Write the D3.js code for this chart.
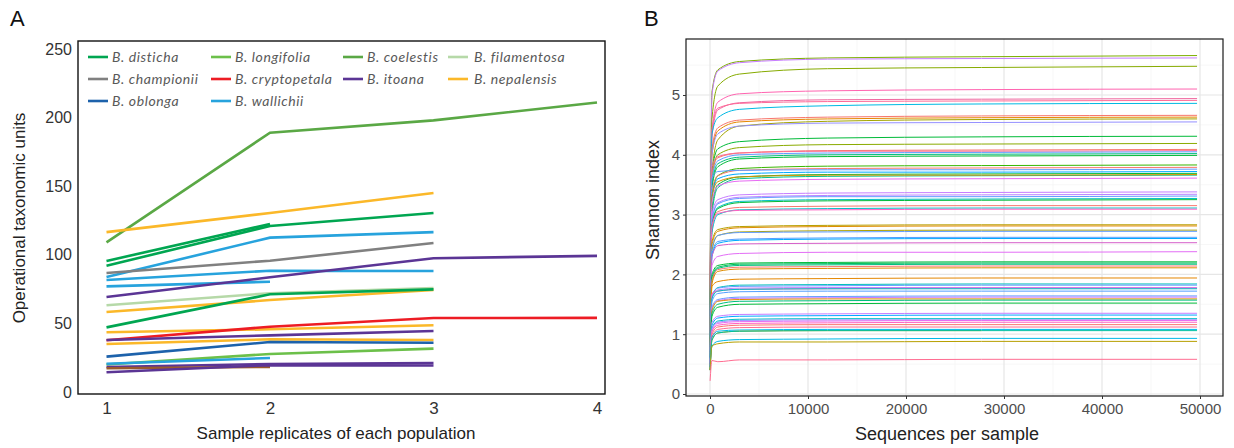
<!DOCTYPE html>
<html>
<head>
<meta charset="utf-8">
<script src="https://cdn.jsdelivr.net/npm/d3@7/dist/d3.min.js"></script>
<style>
  html, body { margin: 0; padding: 0; background: #fff; }
  svg { display: block; }
  .tick-label { font-family: "Liberation Sans", Arial, sans-serif; fill: #333; }
  .axis-title { font-family: "Liberation Sans", Arial, sans-serif; fill: #222; }
  .legend-text { font-family: Lato, "Open Sans", sans-serif; font-style: italic; fill: #595959; }
</style>
</head>
<body>
<svg id="chart" width="1234" height="448"></svg>
<script>
// ---------- Panel A: OTU counts per replicate ----------
const replicates = [1, 2, 3, 4];
const otuTicks = [0, 50, 100, 150, 200, 250];

const species = ["B. disticha", "B. longifolia", "B. coelestis", "B. filamentosa",
                 "B. championii", "B. cryptopetala", "B. itoana", "B. nepalensis",
                 "B. oblonga", "B. wallichii"];
const speciesColours = ["#00a651", "#6cc04a", "#5aa845", "#b6d9a8",
                        "#808080", "#ed1c24", "#5b3595", "#fbb829",
                        "#1d62ab", "#27a3dd"];

// one entry per population: species, OTUs at replicate 1..n
const populationSpecies = [
  "B. coelestis", "B. nepalensis", "B. disticha", "B. disticha", "B. wallichii",
  "B. championii", "B. wallichii", "B. wallichii", "B. itoana", "B. filamentosa",
  "B. nepalensis", "B. disticha", "B. nepalensis", "B. cryptopetala", "B. itoana",
  "B. nepalensis", "B. oblonga", "B. longifolia", "B. wallichii", "B. itoana",
  "B. itoana", "B. itoana"
];
const populationOtus = [
  [109, 189, 198, 211],
  [116.5, 130.5, 145],
  [95.5, 122.5],
  [92, 121, 130.5],
  [83.8, 112.5, 116.5],
  [86.7, 95.7, 108.6],
  [81.6, 88.4, 88.2],
  [77, 80.4],
  [69.2, 83.6, 97.5, 99.2],
  [63.2, 72, 75.8],
  [58.3, 67, 74.3],
  [47.1, 71.2, 74.8],
  [43.5, 45.7, 48.6],
  [37.7, 47.6, 53.9, 54],
  [37.9, 41.3, 44.5],
  [35, 38.4, 37.9],
  [25.8, 36.4, 35.9],
  [20, 27.7, 31.6],
  [20.6, 24.8],
  [18.2, 20.4, 21.1],
  [17.3, 18.3],
  [14.4, 19.6, 19.3]
];
// the short replicate pair at ~18 OTUs reads brown where two colours overlap
const populationColourOverride = {20: "#9a5a2c"};

// ---------- Panel B: Shannon rarefaction ----------
const depthTicks = [0, 10000, 20000, 30000, 40000, 50000];
const shannonTicks = [0, 1, 2, 3, 4, 5];
const depths = [10, 200, 800, 3000, 12000, 27700, 49700];

const sampleColours = [
  "#7cae00", "#c77cff", "#86ab00", "#ff64b0", "#f0679f", "#ff6a98", "#00b9e3",
  "#f8766d", "#e58700", "#a3a500", "#9590ff", "#00ba38", "#8aab00", "#f8766d",
  "#ff6c91", "#619cff", "#00bf7d", "#00ba38", "#39b600", "#f8766d", "#619cff",
  "#00a9ff", "#00ba38", "#00c08b", "#d89000", "#e76bf3", "#c77cff", "#b983ff",
  "#619cff", "#00bfc4", "#00ba38", "#f8766d", "#00bfc4", "#ff61c3", "#b79f00",
  "#de8c00", "#aea200", "#619cff", "#529eff", "#00a9ff", "#d55fc9", "#e36ef6",
  "#00ba38", "#00bd5c", "#00bf7d", "#f8766d", "#de8c00", "#e58700", "#00c0b8",
  "#619cff", "#c77cff", "#ff62bc", "#00bfc4", "#529eff", "#619cff", "#c77cff",
  "#de8c00", "#00bf7d", "#00ba38", "#c77cff", "#00a9ff", "#00bfc4", "#9590ff",
  "#e76bf3", "#ff61c3", "#f8766d", "#ff6c91", "#00b8e7", "#b79f00", "#00c1a3",
  "#00b8e7", "#b79f00", "#ff6c91"
];
// Shannon index at each rarefaction depth, one row per sample
const shannon = [
  [1.9, 5.05, 5.42, 5.56, 5.62, 5.64, 5.66],
  [1.8, 5.00, 5.40, 5.54, 5.60, 5.61, 5.62],
  [1.7, 4.60, 5.15, 5.35, 5.44, 5.46, 5.48],
  [1.6, 4.40, 4.88, 5.02, 5.07, 5.09, 5.10],
  [1.6, 4.30, 4.75, 4.87, 4.92, 4.93, 4.94],
  [1.5, 4.40, 4.78, 4.86, 4.89, 4.90, 4.91],
  [1.5, 4.35, 4.62, 4.76, 4.82, 4.85, 4.86],
  [1.4, 4.10, 4.45, 4.58, 4.63, 4.65, 4.66],
  [1.4, 4.00, 4.40, 4.55, 4.60, 4.62, 4.63],
  [1.3, 3.70, 4.25, 4.48, 4.56, 4.59, 4.60],
  [1.3, 4.00, 4.35, 4.48, 4.53, 4.54, 4.55],
  [1.3, 3.70, 4.10, 4.22, 4.28, 4.30, 4.31],
  [1.2, 3.60, 4.00, 4.12, 4.17, 4.18, 4.19],
  [1.2, 3.70, 3.95, 4.03, 4.07, 4.08, 4.09],
  [1.2, 3.80, 3.97, 4.03, 4.06, 4.06, 4.07],
  [1.2, 3.60, 3.90, 4.00, 4.03, 4.04, 4.05],
  [1.1, 3.50, 3.85, 3.96, 4.00, 4.01, 4.02],
  [1.1, 3.45, 3.80, 3.93, 3.97, 3.98, 3.99],
  [1.1, 3.30, 3.65, 3.77, 3.81, 3.82, 3.83],
  [1.1, 3.40, 3.65, 3.74, 3.77, 3.78, 3.79],
  [1.1, 3.60, 3.72, 3.74, 3.75, 3.75, 3.76],
  [1.0, 3.30, 3.60, 3.68, 3.71, 3.71, 3.72],
  [1.0, 3.10, 3.50, 3.63, 3.67, 3.68, 3.69],
  [1.0, 3.00, 3.45, 3.60, 3.64, 3.65, 3.66],
  [1.0, 3.30, 3.55, 3.63, 3.66, 3.66, 3.67],
  [1.0, 3.20, 3.48, 3.56, 3.59, 3.60, 3.61],
  [0.9, 3.00, 3.25, 3.33, 3.36, 3.37, 3.38],
  [0.9, 2.90, 3.20, 3.29, 3.32, 3.33, 3.34],
  [0.9, 2.90, 3.18, 3.27, 3.30, 3.30, 3.31],
  [0.9, 2.80, 3.12, 3.22, 3.25, 3.26, 3.27],
  [0.9, 2.80, 3.10, 3.20, 3.23, 3.24, 3.25],
  [0.9, 2.80, 3.05, 3.12, 3.14, 3.15, 3.15],
  [0.8, 2.70, 3.00, 3.08, 3.10, 3.11, 3.11],
  [0.8, 2.80, 3.02, 3.07, 3.08, 3.09, 3.09],
  [0.8, 2.55, 2.75, 2.80, 2.82, 2.83, 2.83],
  [0.8, 2.50, 2.72, 2.78, 2.80, 2.81, 2.81],
  [0.8, 2.40, 2.65, 2.71, 2.73, 2.74, 2.74],
  [0.8, 2.45, 2.65, 2.70, 2.71, 2.72, 2.72],
  [0.8, 2.35, 2.55, 2.59, 2.61, 2.62, 2.62],
  [0.7, 2.30, 2.52, 2.57, 2.59, 2.60, 2.60],
  [0.7, 2.30, 2.48, 2.51, 2.52, 2.53, 2.53],
  [0.7, 2.15, 2.30, 2.35, 2.37, 2.37, 2.38],
  [0.7, 2.00, 2.15, 2.19, 2.20, 2.21, 2.21],
  [0.7, 1.95, 2.12, 2.17, 2.18, 2.19, 2.19],
  [0.7, 1.90, 2.10, 2.15, 2.16, 2.17, 2.17],
  [0.6, 1.90, 2.08, 2.12, 2.13, 2.14, 2.14],
  [0.6, 1.85, 2.05, 2.09, 2.10, 2.11, 2.11],
  [0.6, 1.80, 1.88, 1.92, 1.93, 1.94, 1.94],
  [0.6, 1.60, 1.78, 1.82, 1.83, 1.84, 1.84],
  [0.6, 1.65, 1.77, 1.80, 1.81, 1.82, 1.82],
  [0.6, 1.65, 1.74, 1.77, 1.78, 1.78, 1.78],
  [0.6, 1.68, 1.72, 1.75, 1.76, 1.77, 1.77],
  [0.6, 1.60, 1.72, 1.75, 1.76, 1.76, 1.76],
  [0.6, 1.55, 1.68, 1.71, 1.72, 1.72, 1.72],
  [0.5, 1.45, 1.58, 1.62, 1.63, 1.64, 1.64],
  [0.5, 1.45, 1.56, 1.60, 1.61, 1.62, 1.62],
  [0.5, 1.40, 1.55, 1.58, 1.59, 1.59, 1.59],
  [0.5, 1.35, 1.50, 1.55, 1.56, 1.57, 1.57],
  [0.5, 1.30, 1.45, 1.50, 1.51, 1.52, 1.52],
  [0.5, 1.20, 1.30, 1.33, 1.34, 1.35, 1.35],
  [0.5, 1.15, 1.27, 1.30, 1.31, 1.32, 1.32],
  [0.45, 1.10, 1.22, 1.25, 1.26, 1.26, 1.26],
  [0.45, 1.10, 1.20, 1.23, 1.24, 1.24, 1.24],
  [0.45, 1.05, 1.18, 1.21, 1.22, 1.23, 1.23],
  [0.45, 1.05, 1.15, 1.18, 1.19, 1.20, 1.20],
  [0.4, 1.00, 1.12, 1.15, 1.16, 1.16, 1.16],
  [0.4, 0.95, 1.08, 1.11, 1.12, 1.12, 1.12],
  [0.4, 0.95, 1.05, 1.07, 1.08, 1.08, 1.08],
  [0.4, 0.90, 1.02, 1.05, 1.06, 1.06, null],
  [0.4, 0.90, 1.02, 1.05, 1.06, 1.06, 1.06],
  [0.45, 0.80, 0.88, 0.91, 0.92, 0.93, 0.93],
  [0.4, 0.80, 0.84, 0.87, 0.87, 0.88, 0.88],
  [0.22, 0.56, 0.54, 0.57, 0.57, 0.58, 0.58]
];

const svg = d3.select("#chart");

// ================= Panel A =================
const A = {left: 78, right: 605, top: 41, bottom: 394};
const xA = d3.scaleLinear().domain([1, 4]).range([106.5, 597]);
const yA = d3.scaleLinear().domain([0, 250]).range([392, 49]);
const colourOf = d3.scaleOrdinal().domain(species).range(speciesColours);

svg.append("text").attr("x", 10).attr("y", 26)
  .attr("class", "axis-title").style("font-size", "22px").style("fill", "#111").text("A");

const gA = svg.append("g");
const lineA = d3.line().x((d, i) => xA(replicates[i])).y(d => yA(d));
gA.selectAll("path.pop").data(populationOtus).join("path")
  .attr("class", "pop")
  .attr("d", d => lineA(d))
  .attr("fill", "none")
  .attr("stroke", (d, i) => populationColourOverride[i] || colourOf(populationSpecies[i]))
  .attr("stroke-width", 2.6);

gA.append("rect").attr("x", A.left).attr("y", A.top)
  .attr("width", A.right - A.left).attr("height", A.bottom - A.top)
  .attr("fill", "none").attr("stroke", "#111").attr("stroke-width", 1.4);

// axes (labels only, no tick marks)
const axAy = d3.axisLeft(yA).tickValues(otuTicks).tickSize(0).tickPadding(6);
svg.append("g").attr("transform", `translate(${A.left},0)`).call(axAy)
  .call(g => g.select(".domain").remove())
  .call(g => g.selectAll("text").attr("class", "tick-label").style("font-size", "16px").attr("font-family", null));
const axAx = d3.axisBottom(xA).tickValues(replicates).tickSize(0).tickPadding(8).tickFormat(d3.format("d"));
svg.append("g").attr("transform", `translate(0,${A.bottom})`).call(axAx)
  .call(g => g.select(".domain").remove())
  .call(g => g.selectAll("text").attr("class", "tick-label").style("font-size", "17px").attr("font-family", null));

svg.append("text").attr("class", "axis-title").style("font-size", "17px")
  .attr("text-anchor", "middle").attr("x", 336).attr("y", 439)
  .text("Sample replicates of each population");
svg.append("text").attr("class", "axis-title").style("font-size", "17px")
  .attr("text-anchor", "middle")
  .attr("transform", "translate(25,218) rotate(-90)")
  .text("Operational taxonomic units");

// legend, 4 columns x 3 rows
const legendCols = [[88, 112], [211, 235], [343, 367], [448, 474]];
const legendRows = [57, 79, 101];
const gLeg = svg.append("g");
species.forEach((s, i) => {
  const col = legendCols[i % 4], row = legendRows[Math.floor(i / 4)];
  gLeg.append("line").attr("x1", col[0]).attr("x2", col[0] + 20)
    .attr("y1", row).attr("y2", row)
    .attr("stroke", speciesColours[i]).attr("stroke-width", 2.6);
  gLeg.append("text").attr("class", "legend-text").style("font-size", "14px")
    .style("letter-spacing", "0.6px")
    .attr("x", col[1]).attr("y", row + 5).text(s);
});

// ================= Panel B =================
const B = {left: 686, right: 1223, top: 39, bottom: 396};
const xB = d3.scaleLinear().domain([0, 50000]).range([710, 1200]);
const yB = d3.scaleLinear().domain([0, 5]).range([394, 95]);

svg.append("text").attr("x", 644).attr("y", 26)
  .attr("class", "axis-title").style("font-size", "22px").style("fill", "#111").text("B");

const gB = svg.append("g");
gB.append("rect").attr("x", B.left).attr("y", B.top)
  .attr("width", B.right - B.left).attr("height", B.bottom - B.top).attr("fill", "#fff");

// minor grid
const minorX = [5000, 15000, 25000, 35000, 45000];
const minorY = [0.5, 1.5, 2.5, 3.5, 4.5, 5.5];
gB.selectAll("line.minx").data(minorX).join("line")
  .attr("x1", d => xB(d)).attr("x2", d => xB(d)).attr("y1", B.top).attr("y2", B.bottom)
  .attr("stroke", "#f4f4f4").attr("stroke-width", 0.7);
gB.selectAll("line.miny").data(minorY).join("line")
  .attr("y1", d => yB(d)).attr("y2", d => yB(d)).attr("x1", B.left).attr("x2", B.right)
  .attr("stroke", "#f4f4f4").attr("stroke-width", 0.7);
// major grid
gB.selectAll("line.majx").data(depthTicks).join("line")
  .attr("x1", d => xB(d)).attr("x2", d => xB(d)).attr("y1", B.top).attr("y2", B.bottom)
  .attr("stroke", "#e6e6e6").attr("stroke-width", 1.2);
gB.selectAll("line.majy").data(shannonTicks).join("line")
  .attr("y1", d => yB(d)).attr("y2", d => yB(d)).attr("x1", B.left).attr("x2", B.right)
  .attr("stroke", "#e6e6e6").attr("stroke-width", 1.2);

const lineB = d3.line()
  .defined(d => d != null)
  .x((d, i) => xB(depths[i]))
  .y(d => yB(d))
  .curve(d3.curveMonotoneX);
gB.selectAll("path.rare").data(shannon).join("path")
  .attr("class", "rare")
  .attr("d", d => lineB(d))
  .attr("fill", "none")
  .attr("stroke", (d, i) => sampleColours[i])
  .attr("stroke-width", 1);

gB.append("rect").attr("x", B.left).attr("y", B.top)
  .attr("width", B.right - B.left).attr("height", B.bottom - B.top)
  .attr("fill", "none").attr("stroke", "#1a1a1a").attr("stroke-width", 1.2);

const axBy = d3.axisLeft(yB).tickValues(shannonTicks).tickSize(3).tickPadding(3).tickFormat(d3.format("d"));
svg.append("g").attr("transform", `translate(${B.left},0)`).call(axBy)
  .call(g => g.select(".domain").remove())
  .call(g => g.selectAll("line").attr("stroke", "#333"))
  .call(g => g.selectAll("text").attr("class", "tick-label").style("font-size", "15px").attr("font-family", null).style("fill", "#4d4d4d"));
const axBx = d3.axisBottom(xB).tickValues(depthTicks).tickSize(3).tickPadding(4).tickFormat(d3.format("d"));
svg.append("g").attr("transform", `translate(0,${B.bottom})`).call(axBx)
  .call(g => g.select(".domain").remove())
  .call(g => g.selectAll("line").attr("stroke", "#333"))
  .call(g => g.selectAll("text").attr("class", "tick-label").style("font-size", "15px").attr("font-family", null).style("fill", "#4d4d4d"));

svg.append("text").attr("class", "axis-title").style("font-size", "18px")
  .attr("text-anchor", "middle").attr("x", 947).attr("y", 440)
  .text("Sequences per sample");
svg.append("text").attr("class", "axis-title").style("font-size", "18px")
  .attr("text-anchor", "middle")
  .attr("transform", "translate(659,200) rotate(-90)")
  .text("Shannon index");
</script>
</body>
</html>
